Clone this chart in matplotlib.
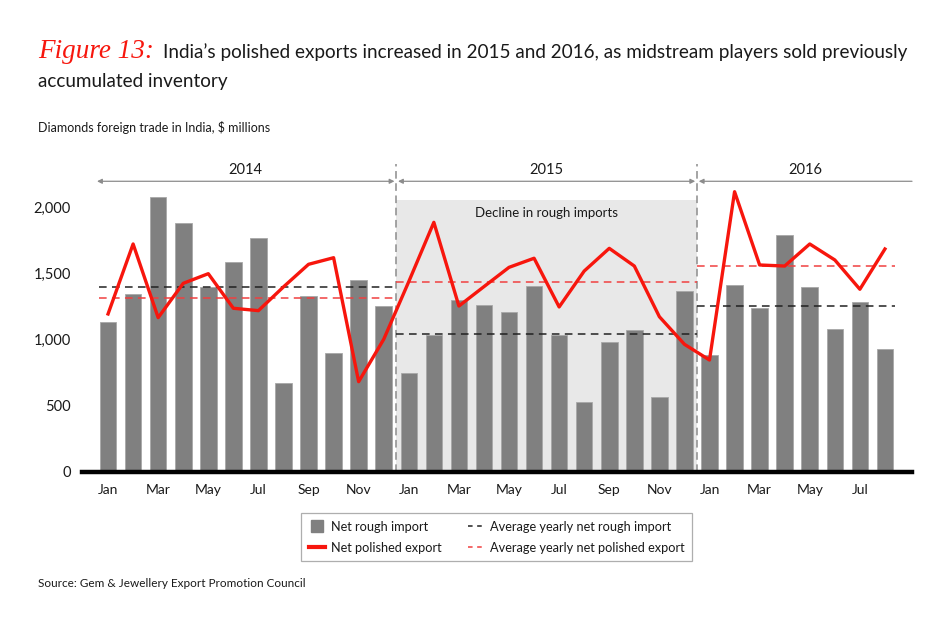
import matplotlib
matplotlib.use("Agg")
import matplotlib.pyplot as plt
from matplotlib.lines import Line2D
import numpy as np

INK = "#1A1A1A"; BAR = "#808080"; BAR_EDGE = "#A8A8A8"; RED = "#F7160D"
SHADE = "#E8E8E8"; DIV = "#8C8C8C"

plt.rcParams.update({
    "font.family": ["Lato", "DejaVu Sans"],
    "font.size": 10, "text.color": INK,
    "xtick.color": INK, "ytick.color": INK,
})

# Diamonds foreign trade in India, $ millions
years = ["2014", "2015", "2016"]
months_per_year = [12, 12, 8]
month_names = ["Jan", "Feb", "Mar", "Apr", "May", "Jun",
               "Jul", "Aug", "Sep", "Oct", "Nov", "Dec"]
rough_import = [1134, 1346, 2079, 1882, 1397, 1591, 1773, 670, 1331, 899, 1452, 1258,
                750, 1036, 1301, 1261, 1208, 1407, 1036, 526, 985, 1071, 564, 1369,
                884, 1417, 1238, 1796, 1399, 1079, 1283, 930]
polished_export = [1195, 1725, 1167, 1427, 1500, 1238, 1220, 1400, 1571, 1621, 682, 1003,
                   1440, 1889, 1255, 1402, 1548, 1617, 1248, 1520, 1692, 1558, 1174, 965,
                   846, 2121, 1566, 1558, 1725, 1604, 1382, 1687]
avg_rough = [1402, 1043, 1255]
avg_polished = [1314, 1439, 1561]

x = np.arange(len(rough_import))
month_labels = [month_names[i] for n in months_per_year for i in range(n)]
bounds = np.cumsum([0] + months_per_year) - 0.5   # -0.5, 11.5, 23.5, 31.5

fig = plt.figure(figsize=(9.5, 6.26), dpi=100)
ax = fig.add_axes([0.0863, 0.2465, 0.8737, 0.485])
ax.set_xlim(-1.04, 32.08)
ax.set_ylim(0, 2300)

# shaded 2015 period
ax.fill_between([bounds[1], bounds[2]], 0, 2060, color=SHADE, lw=0, zorder=0)
ax.text((bounds[1] + bounds[2]) / 2, 1960, "Decline in rough imports",
        ha="center", va="center", fontsize=9.5)

ax.bar(x, rough_import, width=0.66, color=BAR, edgecolor=BAR_EDGE, lw=0.6, zorder=2)
ax.plot(x, polished_export, color=RED, lw=2.4, zorder=4)

# yearly averages
starts = [-0.35, bounds[1], bounds[2]]
ends = [bounds[1], bounds[2], 31.4]
ax.hlines(avg_rough, starts, ends, colors="#222222", linestyles=(0, (5, 3.5)), lw=1.1, zorder=3)
ax.hlines(avg_polished, starts, ends, colors="#F04040", linestyles=(0, (5, 3.5)), lw=1.1, zorder=3)

# year dividers, arrows and labels
for b in bounds[1:3]:
    ax.plot([b, b], [0, 2330], color=DIV, ls=(0, (5, 3)), lw=1.1, clip_on=False, zorder=1)
arrow_l = [-0.44, bounds[1] + 0.07, bounds[2] + 0.07]
arrow_r = [bounds[1] - 0.07, bounds[2] - 0.07, 32.08]
for i, yr in enumerate(years):
    style = "<|-|>" if i < 2 else "<|-"
    ax.annotate("", xy=(arrow_r[i], 2200), xytext=(arrow_l[i], 2200),
                arrowprops=dict(arrowstyle=style, color=DIV, lw=0.9, mutation_scale=7,
                                shrinkA=0, shrinkB=0), annotation_clip=False)
    ax.text((arrow_l[i] + arrow_r[i]) / 2, 2285, yr, ha="center", va="center", fontsize=10.5)

ax.set_yticks([0, 500, 1000, 1500, 2000])
ax.set_yticklabels(["0", "500", "1,000", "1,500", "2,000"], fontsize=10.5)
ax.set_xticks(x[::2])
ax.set_xticklabels(month_labels[::2], fontsize=10)
ax.tick_params(axis="both", length=0)
ax.tick_params(axis="y", pad=8)
ax.tick_params(axis="x", pad=9)
for sp in ("top", "right", "left"):
    ax.spines[sp].set_visible(False)
ax.spines["bottom"].set_linewidth(3.2)
ax.spines["bottom"].set_color("black")
ax.spines["bottom"].set_zorder(5)

handles = [
    Line2D([], [], marker="s", ls="none", color=BAR, markersize=9),
    Line2D([], [], color=RED, lw=3),
    Line2D([], [], color="#222222", ls=(0, (3, 3)), lw=1.1),
    Line2D([], [], color="#F04040", ls=(0, (3, 3)), lw=1.1),
]
labels = ["Net rough import", "Net polished export",
          "Average yearly net rough import", "Average yearly net polished export"]
leg = fig.legend(handles, labels, ncol=2, loc="center", bbox_to_anchor=(0.523, 0.142),
                 fontsize=9.2, frameon=True, fancybox=False, edgecolor="#9A9A9A",
                 handlelength=1.25, columnspacing=2.0, handletextpad=0.5, labelspacing=0.72,
                 borderpad=0.6, borderaxespad=0)
leg.get_frame().set_linewidth(0.9)

fig.text(0.04, 0.907, "Figure 13:", color=RED, fontsize=19.5, style="italic",
         family=["Liberation Serif", "DejaVu Serif"], va="baseline")
fig.text(0.1716, 0.907, "India\u2019s polished exports increased in 2015 and 2016, as midstream players sold previously",
         fontsize=13.6, va="baseline")
fig.text(0.04, 0.861, "accumulated inventory", fontsize=13.6, va="baseline")
fig.text(0.04, 0.789, "Diamonds foreign trade in India, $ millions", fontsize=9, va="baseline")
fig.text(0.04, 0.062, "Source: Gem & Jewellery Export Promotion Council", fontsize=8.5, va="baseline")

fig.savefig("out.png", dpi=100)
